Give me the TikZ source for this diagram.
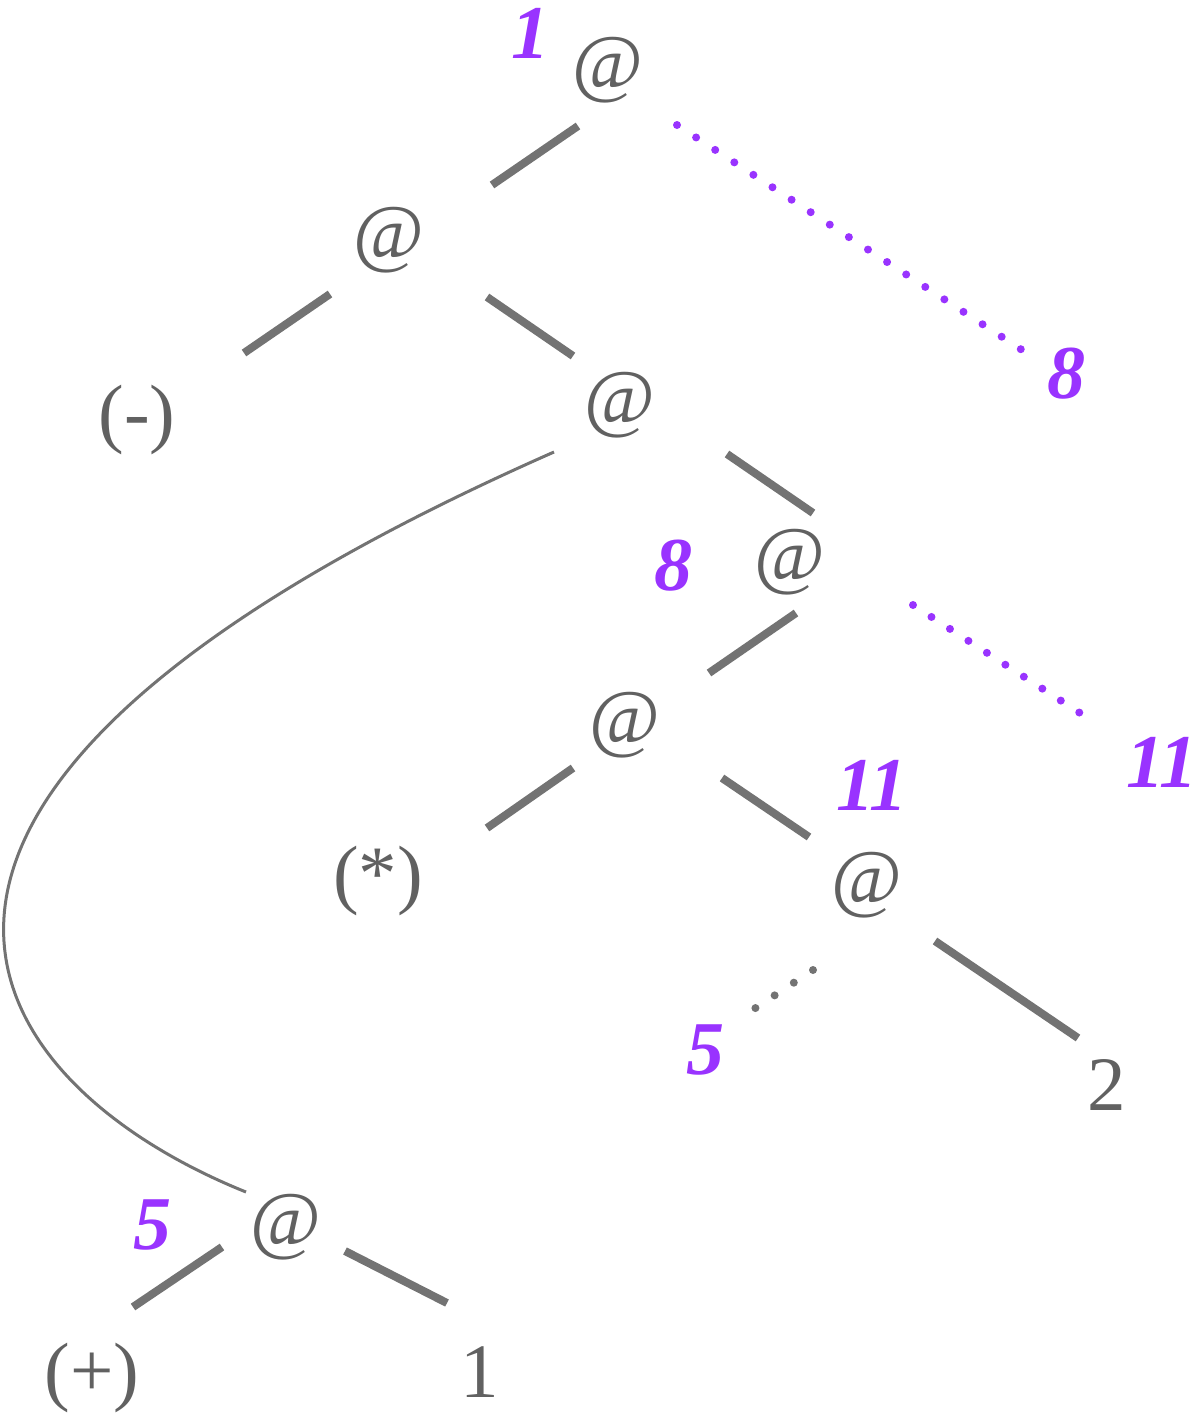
\documentclass[tikz,border=0pt]{standalone}
\usepackage{fontspec}
\setmainfont{Liberation Serif}
\usetikzlibrary{calc}
\definecolor{encre}{HTML}{616161}
\definecolor{trait}{HTML}{737373}
\definecolor{mauve}{HTML}{9933FF}
\tikzset{
  terme/.style={inner sep=0pt, text=encre, font=\fontsize{77}{84}\selectfont},
  etiquette/.style={inner sep=0pt, text=mauve, font=\fontsize{76}{84}\selectfont\bfseries\itshape},
  branche/.style={line width=8pt, color=trait},
  courbe/.style={line width=3pt, color=trait},
  renvoi/.style={line width=8pt, color=mauve, line cap=round, dash pattern=on 0pt off 22.8pt},
  pointille/.style={line width=8pt, color=trait, line cap=round, dash pattern=on 0pt off 23pt}
}

\begin{document}
\begin{tikzpicture}[x=1pt, y=-1pt]
  \useasboundingbox (0,0) rectangle (1203,1414);

  % termes
  \node[terme] (at1) at (608,70)    {@};
  \node[terme] (at2) at (389,240)   {@};
  \node[terme] (moins) at (137,420) {(-)};
  \node[terme] (at3) at (620,405)   {@};
  \node[terme] (at4) at (790,562)   {@};
  \node[terme] (at5) at (625,725)   {@};
  \node[terme] (fois) at (378,881)  {(*)};
  \node[terme] (at6) at (867,885)   {@};
  \node[terme] (deux) at (1107,1085) {2};
  \node[terme] (at7) at (286,1227)  {@};
  \node[terme] (plus) at (92,1378)  {(+)};
  \node[terme] (un) at (480,1372)   {1};

  % etiquettes
  \node[etiquette] (e1) at (530,33)    {1};
  \node[etiquette] (e8) at (673,566)   {8};
  \node[etiquette] (e8b) at (1066,374) {8};
  \node[etiquette] (e11) at (872,785)  {11};
  \node[etiquette] (e11b) at (1162,762) {11};
  \node[etiquette] (e5) at (705,1050)  {5};
  \node[etiquette] (e5b) at (152,1225) {5};

  % branches
  \draw[branche] ($(at1)+(-30,56)$) -- ($(at2)+(103,-55)$);
  \draw[branche] ($(at2)+(-59,54)$) -- ($(moins)+(107,-67)$);
  \draw[branche] ($(at2)+(98,57)$) -- ($(at3)+(-47,-49)$);
  \draw[branche] ($(at3)+(107,49)$) -- ($(at4)+(23,-49)$);
  \draw[branche] ($(at4)+(6,51)$) -- ($(at5)+(84,-52)$);
  \draw[branche] ($(at5)+(-52,43)$) -- ($(fois)+(109,-53)$);
  \draw[branche] ($(at5)+(97,53)$) -- ($(at6)+(-58,-48)$);
  \draw[branche] ($(at6)+(68,56)$) -- ($(deux)+(-29,-47)$);
  \draw[branche] ($(at7)+(-64,20)$) -- ($(plus)+(41,-71)$);
  \draw[branche] ($(at7)+(59,24)$) -- ($(un)+(-33,-69)$);

  \draw[courbe] ($(at3)+(-66,47)$) .. controls (-235,800) and (-20,1085) .. ($(at7)+(-40,-35)$);

  % renvois
  \draw[renvoi] ($(at1)+(69,55)$) -- ($(e8b)+(-44,-24)$);
  \draw[renvoi, dash pattern=on 0pt off 22pt] ($(at4)+(123,43)$) -- ($(e11b)+(-82,-49)$);
  \draw[pointille] ($(at6)+(-54,85)$) -- ($(e5)+(49,-41)$);
\end{tikzpicture}
\end{document}
